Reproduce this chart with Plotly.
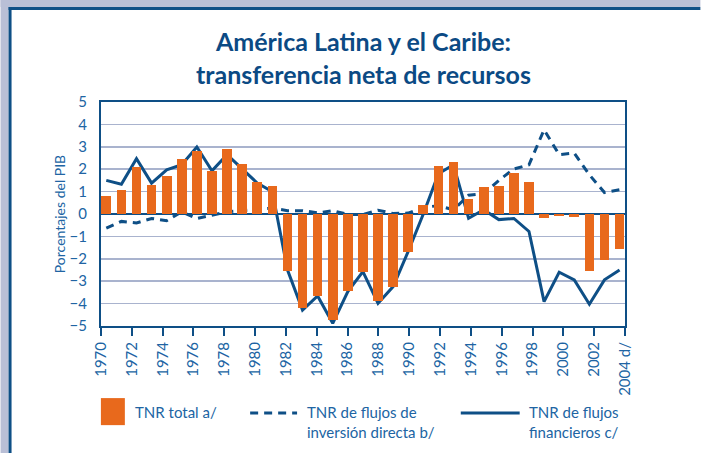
import plotly.graph_objects as go

# ---------------- data ----------------
years = list(range(1970, 2005))
tnr_total = [0.81, 1.08, 2.08, 1.31, 1.68, 2.47, 2.83, 1.93, 2.88, 2.24, 1.41, 1.23,
             -2.53, -4.21, -3.66, -4.73, -3.43, -2.58, -3.87, -3.25, -1.69,
             0.41, 2.15, 2.33, 0.68, 1.21, 1.26, 1.84, 1.44,
             -0.20, -0.08, -0.15, -2.53, -2.04, -1.55]
tnr_financieros = [1.50, 1.33, 2.47, 1.38, 1.97, 2.20, 2.99, 1.93, 2.65, 2.02, 1.38, 1.00,
                   -2.49, -4.29, -3.66, -4.88, -3.46, -2.57, -3.99, -3.24, -1.67,
                   0.00, 1.80, 2.20, -0.19, 0.19, -0.25, -0.20, -0.78,
                   -3.91, -2.60, -2.94, -4.03, -2.94, -2.50]
tnr_ied = [-0.63, -0.33, -0.40, -0.20, -0.30, 0.10, -0.20, -0.05, 0.10, 0.15, 0.22, 0.26,
           0.15, 0.15, 0.05, 0.15, -0.02, -0.02, 0.17, 0.02, 0.04,
           0.30, 0.37, 0.19, 0.84, 0.91, 1.50, 2.01, 2.20,
           3.76, 2.65, 2.72, 1.75, 0.96, 1.08]
tick_labels = ["1970", "1972", "1974", "1976", "1978", "1980", "1982", "1984", "1986",
               "1988", "1990", "1992", "1994", "1996", "1998", "2000", "2002", "2004 d/"]

# ---------------- style ----------------
ORANGE = "#E8691C"
DARK = "#0E4F86"
TXT = "#2064A3"
GRID = "#A9B3CE"
LAV = "#B9BFD6"
FONT = "Lato"

W, H = 701, 453
L, R, T, B = 100.6, 625.5, 102.3, 326.0


def px(x):
    return (x - L) / (R - L)


def py(y):
    return (B - y) / (B - T)


r0, r1 = 1969.65, 2004.36
tickvals = [r0 + k * (r1 - r0) / (len(tick_labels) - 1) for k in range(len(tick_labels))]

fig = go.Figure()
fig.add_trace(go.Scatter(x=years, y=tnr_ied, mode="lines", name="TNR de flujos de inversión directa b/",
                         line=dict(color=DARK, width=3, dash="8px,6px"), showlegend=False,
                         hoverinfo="skip"))
fig.add_trace(go.Scatter(x=years, y=tnr_financieros, mode="lines", name="TNR de flujos financieros c/",
                         line=dict(color=DARK, width=3), showlegend=False, hoverinfo="skip"))
# bars on an overlaying subplot so they are drawn above the lines, as in the original
fig.add_trace(go.Bar(x=years, y=tnr_total, name="TNR total a/", width=0.64,
                     xaxis="x2", yaxis="y2",
                     marker=dict(color=ORANGE, line=dict(width=0)), showlegend=False,
                     hoverinfo="skip"))

shapes = [
    # outer frame
    dict(type="rect", xref="paper", yref="paper", x0=px(0), x1=px(W), y0=py(0), y1=py(7.5),
         fillcolor=LAV, line=dict(width=0)),
    dict(type="rect", xref="paper", yref="paper", x0=px(0), x1=px(8), y0=py(0), y1=py(H),
         fillcolor=LAV, line=dict(width=0)),
    dict(type="rect", xref="paper", yref="paper", x0=px(8), x1=px(W), y0=py(7.5), y1=py(10.5),
         fillcolor=DARK, line=dict(width=0)),
    dict(type="rect", xref="paper", yref="paper", x0=px(8), x1=px(11), y0=py(7.5), y1=py(H),
         fillcolor=DARK, line=dict(width=0)),
    # legend symbols
    dict(type="rect", xref="paper", yref="paper", x0=px(100.5), x1=px(124.5), y0=py(425), y1=py(398),
         fillcolor=ORANGE, line=dict(width=0)),
    dict(type="line", xref="paper", yref="paper", x0=px(250), x1=px(297), y0=py(413), y1=py(413),
         line=dict(color=DARK, width=3, dash="8px,6px")),
    dict(type="line", xref="paper", yref="paper", x0=px(461), x1=px(520), y0=py(413), y1=py(413),
         line=dict(color=DARK, width=3)),
]

annotations = [
    dict(text="<b>América Latina y el Caribe:<br>transferencia neta de recursos</b>",
         xref="paper", yref="paper", x=0.5, y=py(58), xanchor="center", yanchor="middle",
         showarrow=False, font=dict(family=FONT, size=25, color="#0B4A84")),
    dict(text="TNR total a/", xref="paper", yref="paper", x=px(133), y=py(412),
         xanchor="left", yanchor="middle", showarrow=False, align="left",
         font=dict(family=FONT, size=15, color=TXT)),
    dict(text="TNR de flujos de<br>inversión directa b/", xref="paper", yref="paper", x=px(305), y=py(401),
         xanchor="left", yanchor="top", showarrow=False, align="left",
         font=dict(family=FONT, size=15, color=TXT)),
    dict(text="TNR de flujos<br>financieros c/", xref="paper", yref="paper", x=px(527), y=py(401),
         xanchor="left", yanchor="top", showarrow=False, align="left",
         font=dict(family=FONT, size=15, color=TXT)),
]

fig.update_layout(
    width=W, height=H,
    margin=dict(l=L, r=W - R, t=T, b=H - B, pad=0),
    paper_bgcolor="white", plot_bgcolor="white",
    bargap=0, barmode="overlay",
    shapes=shapes, annotations=annotations,
    font=dict(family=FONT, size=14, color=TXT),
    hovermode=False,
    xaxis=dict(range=[r0, r1], tickmode="array", tickvals=tickvals, ticktext=tick_labels,
               tickangle=-90, ticks="outside", ticklen=8, tickwidth=2, tickcolor=DARK,
               showline=True, mirror=True, linecolor=DARK, linewidth=2,
               showgrid=False, zeroline=False,
               tickfont=dict(family=FONT, size=15, color=TXT)),
    yaxis=dict(range=[-5, 5], dtick=1, tickmode="linear", tick0=0,
               ticks="outside", ticklen=9, tickcolor="rgba(0,0,0,0)",
               showline=True, mirror=True, linecolor=DARK, linewidth=2,
               showgrid=True, gridcolor=GRID, gridwidth=1.5,
               zeroline=True, zerolinecolor=DARK, zerolinewidth=2,
               tickfont=dict(family=FONT, size=15, color=TXT),
               title=dict(text="Porcentajes del PIB", standoff=1,
                          font=dict(family=FONT, size=14, color=TXT))),
    xaxis2=dict(overlaying="x", matches="x", visible=False, showgrid=False, zeroline=False),
    yaxis2=dict(overlaying="y", matches="y", visible=False, showgrid=False, zeroline=False),
)

fig.write_html("out.html",
               config={"displayModeBar": False, "staticPlot": True},
               post_script="document.body.style.margin='0';document.body.style.overflow='hidden';")
